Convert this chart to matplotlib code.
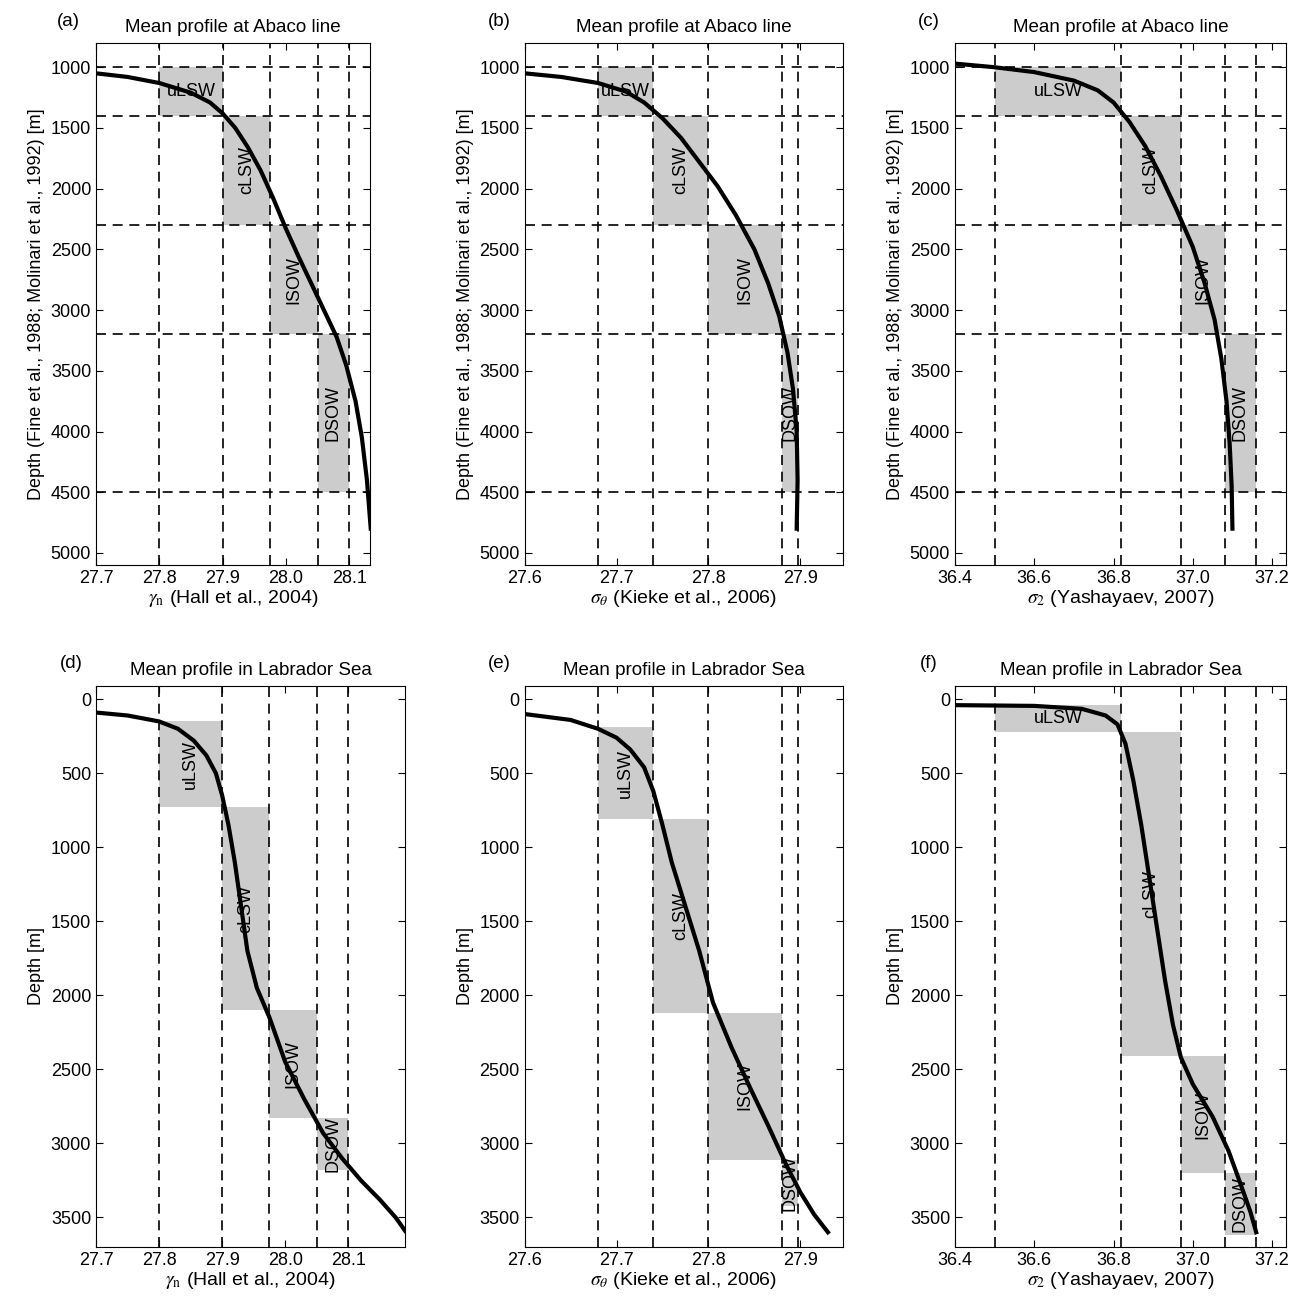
import matplotlib
matplotlib.use("Agg")
import matplotlib.pyplot as plt
from matplotlib.patches import Rectangle

plt.rcParams["font.family"] = ["Liberation Sans", "DejaVu Sans"]
plt.rcParams["mathtext.fontset"] = "stix"

WATER_MASSES = ["uLSW", "cLSW", "ISOW", "DSOW"]

# density class boundaries per coordinate
GAMMA_BOUNDS = [27.8, 27.9, 27.975, 28.05, 28.1]
SIGTH_BOUNDS = [27.68, 27.74, 27.8, 27.88, 27.897]
SIG2_BOUNDS = [36.5, 36.82, 36.97, 37.08, 37.16]

# Abaco line depth boundaries
ABACO_DEPTHS = [1000, 1400, 2300, 3200, 4500]

# Labrador Sea depth ranges of boxes
LAB_GAMMA_DEPTHS = [150, 730, 2100, 2830, 3180]
LAB_SIGTH_DEPTHS = [190, 810, 2120, 3110, 3420]
LAB_SIG2_DEPTHS = [40, 220, 2410, 3200, 3620]

# mean profiles (density, depth)
ABACO_GAMMA_X = [27.70, 27.75, 27.80, 27.85, 27.88, 27.90, 27.92, 27.94, 27.96, 27.98, 28.00, 28.02, 28.04, 28.06, 28.08, 28.095, 28.11, 28.12, 28.128, 28.134]
ABACO_GAMMA_Z = [1050, 1080, 1130, 1210, 1290, 1380, 1500, 1660, 1850, 2080, 2330, 2560, 2780, 3000, 3220, 3450, 3750, 4050, 4400, 4800]
ABACO_SIGTH_X = [27.60, 27.64, 27.68, 27.71, 27.73, 27.75, 27.77, 27.79, 27.81, 27.83, 27.85, 27.865, 27.877, 27.886, 27.892, 27.896, 27.897, 27.896]
ABACO_SIGTH_Z = [1050, 1080, 1130, 1200, 1290, 1420, 1580, 1780, 1980, 2220, 2500, 2780, 3050, 3350, 3650, 4000, 4400, 4800]
ABACO_SIG2_X = [36.40, 36.50, 36.60, 36.70, 36.76, 36.80, 36.84, 36.88, 36.92, 36.96, 37.00, 37.03, 37.055, 37.072, 37.085, 37.093, 37.098, 37.10]
ABACO_SIG2_Z = [970, 1000, 1040, 1110, 1190, 1290, 1450, 1650, 1900, 2180, 2480, 2780, 3080, 3400, 3750, 4100, 4450, 4800]

LAB_GAMMA_X = [27.70, 27.75, 27.80, 27.83, 27.855, 27.875, 27.89, 27.90, 27.91, 27.92, 27.93, 27.94, 27.955, 27.975, 28.00, 28.03, 28.06, 28.09, 28.12, 28.15, 28.175, 28.19]
LAB_GAMMA_Z = [90, 110, 150, 200, 280, 380, 500, 650, 850, 1100, 1400, 1700, 1950, 2150, 2450, 2700, 2930, 3100, 3250, 3380, 3500, 3590]
LAB_SIGTH_X = [27.60, 27.65, 27.68, 27.70, 27.715, 27.73, 27.74, 27.75, 27.76, 27.775, 27.79, 27.805, 27.825, 27.845, 27.865, 27.885, 27.90, 27.915, 27.925, 27.93]
LAB_SIGTH_Z = [100, 140, 200, 260, 340, 460, 620, 850, 1100, 1400, 1700, 2050, 2350, 2620, 2880, 3150, 3330, 3480, 3560, 3600]
LAB_SIG2_X = [36.40, 36.60, 36.72, 36.78, 36.81, 36.83, 36.85, 36.87, 36.89, 36.91, 36.93, 36.95, 36.97, 37.00, 37.05, 37.09, 37.12, 37.145, 37.16]
LAB_SIG2_Z = [40, 45, 65, 110, 170, 300, 550, 850, 1200, 1550, 1900, 2200, 2420, 2600, 2820, 3050, 3270, 3460, 3600]

XLAB_G = r"$\gamma_\mathrm{n}$ (Hall et al., 2004)"
XLAB_T = r"$\sigma_\theta$ (Kieke et al., 2006)"
XLAB_2 = r"$\sigma_2$ (Yashayaev, 2007)"

fig = plt.figure(figsize=(13.05, 13.02), dpi=100)

panels = [
    ("(a)", [0.0736, 0.566, 0.210, 0.401], "Mean profile at Abaco line", GAMMA_BOUNDS, ABACO_DEPTHS, True,
     ABACO_GAMMA_X, ABACO_GAMMA_Z, (27.7, 28.133), (5100, 800), [27.7, 27.8, 27.9, 28.0, 28.1],
     range(1000, 5001, 500), XLAB_G, "Depth (Fine et al., 1988; Molinari et al., 1992) [m]"),
    ("(b)", [0.402, 0.566, 0.2437, 0.401], "Mean profile at Abaco line", SIGTH_BOUNDS, ABACO_DEPTHS, True,
     ABACO_SIGTH_X, ABACO_SIGTH_Z, (27.6, 27.946), (5100, 800), [27.6, 27.7, 27.8, 27.9],
     range(1000, 5001, 500), XLAB_T, "Depth (Fine et al., 1988; Molinari et al., 1992) [m]"),
    ("(c)", [0.7318, 0.566, 0.2536, 0.401], "Mean profile at Abaco line", SIG2_BOUNDS, ABACO_DEPTHS, True,
     ABACO_SIG2_X, ABACO_SIG2_Z, (36.4, 37.235), (5100, 800), [36.4, 36.6, 36.8, 37.0, 37.2],
     range(1000, 5001, 500), XLAB_2, "Depth (Fine et al., 1988; Molinari et al., 1992) [m]"),
    ("(d)", [0.0736, 0.0422, 0.2368, 0.431], "Mean profile in Labrador Sea", GAMMA_BOUNDS, LAB_GAMMA_DEPTHS, False,
     LAB_GAMMA_X, LAB_GAMMA_Z, (27.7, 28.19), (3700, -90), [27.7, 27.8, 27.9, 28.0, 28.1],
     range(0, 3501, 500), XLAB_G, "Depth [m]"),
    ("(e)", [0.402, 0.0422, 0.2437, 0.431], "Mean profile in Labrador Sea", SIGTH_BOUNDS, LAB_SIGTH_DEPTHS, False,
     LAB_SIGTH_X, LAB_SIGTH_Z, (27.6, 27.946), (3700, -90), [27.6, 27.7, 27.8, 27.9],
     range(0, 3501, 500), XLAB_T, "Depth [m]"),
    ("(f)", [0.7318, 0.0422, 0.2536, 0.431], "Mean profile in Labrador Sea", SIG2_BOUNDS, LAB_SIG2_DEPTHS, False,
     LAB_SIG2_X, LAB_SIG2_Z, (36.4, 37.235), (3700, -90), [36.4, 36.6, 36.8, 37.0, 37.2],
     range(0, 3501, 500), XLAB_2, "Depth [m]"),
]

for tag, rect, title, xb, zb, abaco, px, pz, xlim, ylim, xt, yt, xl, yl in panels:
    ax = fig.add_axes(rect)
    ax.set_xlim(*xlim)
    ax.set_ylim(*ylim)
    for i, name in enumerate(WATER_MASSES):
        ax.add_patch(Rectangle((xb[i], zb[i]), xb[i + 1] - xb[i], zb[i + 1] - zb[i],
                               facecolor="#cccccc", edgecolor="none", zorder=1))
        # orientation of the label follows the box shape on screen
        p0 = ax.transData.transform((xb[i], zb[i]))
        p1 = ax.transData.transform((xb[i + 1], zb[i + 1]))
        rot = 0 if abs(p1[0] - p0[0]) > abs(p1[1] - p0[1]) else 90
        ax.text((xb[i] + xb[i + 1]) / 2, (zb[i] + zb[i + 1]) / 2, name, rotation=rot,
                ha="center", va="center", fontsize=13, zorder=4)
    for x in xb:
        ax.axvline(x, color="k", ls=(0, (6, 4)), lw=1.2, zorder=2)
    if abaco:
        for z in zb:
            ax.axhline(z, color="k", ls=(0, (6, 4)), lw=1.2, zorder=2)
    ax.plot(px, pz, color="k", lw=3, zorder=3, solid_joinstyle="round")
    ax.set_xticks(xt)
    ax.set_yticks(list(yt))
    ax.tick_params(direction="in", labelsize=13, top=True, right=True, length=5)
    ax.set_xlabel(xl, fontsize=14, labelpad=1)
    ax.set_ylabel(yl, fontsize=13)
    ax.set_title(title, fontsize=13.5, pad=8)
    ax.text(-0.1 if rect[2] < 0.22 else -0.08, 1.025, tag, transform=ax.transAxes,
            fontsize=13.5, ha="center", va="bottom")

fig.savefig("out.png", dpi=100)
